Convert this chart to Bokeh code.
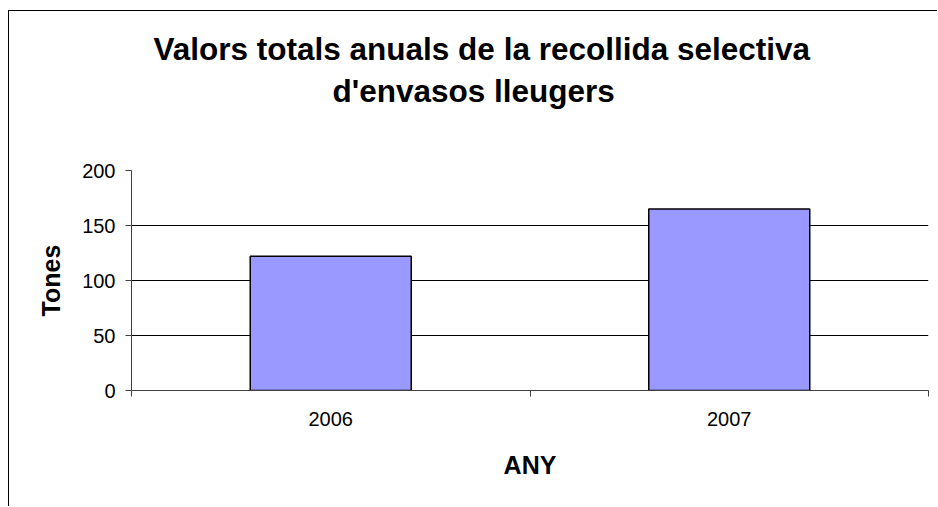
from bokeh.plotting import figure
from bokeh.models import Range1d, FixedTicker, Title
from bokeh.embed import file_html
from bokeh.resources import INLINE

# ---- data ----
years = ["2006", "2007"]
tones = [122, 165]
title_lines = ["Valors totals anuals de la recollida selectiva", "d'envasos lleugers"]
y_ticks = [0, 50, 100, 150, 200]
grid_ticks = [50, 100, 150]
x_label = "ANY"
y_label = "Tones"

FONT = "Liberation Sans"

xs = [i + 0.5 for i in range(len(years))]
bounds = [float(i) for i in range(len(years) + 1)]

W, H = 929, 496
ML, MT, MR, MB = 122, 159, 10, 117

p = figure(width=W, height=H, output_backend="svg", toolbar_location=None,
           x_range=Range1d(0, len(years)), y_range=Range1d(y_ticks[0], y_ticks[-1]),
           min_border_left=ML, min_border_top=MT, min_border_right=MR, min_border_bottom=MB)
p.styles = {"border-left": "1px solid black", "border-top": "1px solid black",
            "margin-top": "10px", "margin-left": "8px"}
p.outline_line_color = None
p.background_fill_color = "white"
p.border_fill_color = "white"

p.vbar(x=xs, top=tones, bottom=0, width=0.404, fill_color="#9999FF",
       line_color="black", line_width=1.5)

# y axis
ya = p.yaxis[0]
ya.ticker = FixedTicker(ticks=y_ticks)
ya.major_tick_out = 6
ya.major_tick_in = 0
ya.minor_tick_out = 0
ya.minor_tick_in = 0
ya.axis_line_color = "#404040"
ya.major_tick_line_color = "#404040"
ya.major_label_text_font = FONT
ya.major_label_text_font_size = "20px"
ya.major_label_text_color = "black"
ya.major_label_standoff = 10
ya.axis_label = y_label
ya.axis_label_text_font = FONT
ya.axis_label_text_font_size = "25px"
ya.axis_label_text_font_style = "bold"
ya.axis_label_text_color = "black"
ya.axis_label_standoff = 14

# x axis
xa = p.xaxis[0]
xa.ticker = FixedTicker(ticks=xs, minor_ticks=bounds)
xa.major_label_overrides = {x: y for x, y in zip(xs, years)}
xa.major_tick_out = 0
xa.major_tick_in = 0
xa.minor_tick_out = 6
xa.minor_tick_in = 0
xa.minor_tick_line_color = "#404040"
xa.axis_line_color = "#404040"
xa.major_label_text_font = FONT
xa.major_label_text_font_size = "20px"
xa.major_label_text_color = "black"
xa.major_label_standoff = 15
xa.axis_label = x_label
xa.axis_label_text_font = FONT
xa.axis_label_text_font_size = "25px"
xa.axis_label_text_font_style = "bold"
xa.axis_label_text_color = "black"
xa.axis_label_standoff = 22

# grid
p.xgrid.grid_line_color = None
p.ygrid.ticker = FixedTicker(ticks=grid_ticks)
p.ygrid.grid_line_color = "black"
p.ygrid.grid_line_width = 1

# title: spacer nearest the frame, then line 2, then line 1
title_style = dict(text_font=FONT, text_font_size="31.5px", text_font_style="bold",
                   text_color="black", align="left")
p.add_layout(Title(text=" ", standoff=24, offset=0, **title_style), "above")
p.add_layout(Title(text=title_lines[1], standoff=0, offset=201, **title_style), "above")
p.add_layout(Title(text=title_lines[0], standoff=8, offset=22, **title_style), "above")

open("out.html", "w").write(file_html(p, INLINE))
